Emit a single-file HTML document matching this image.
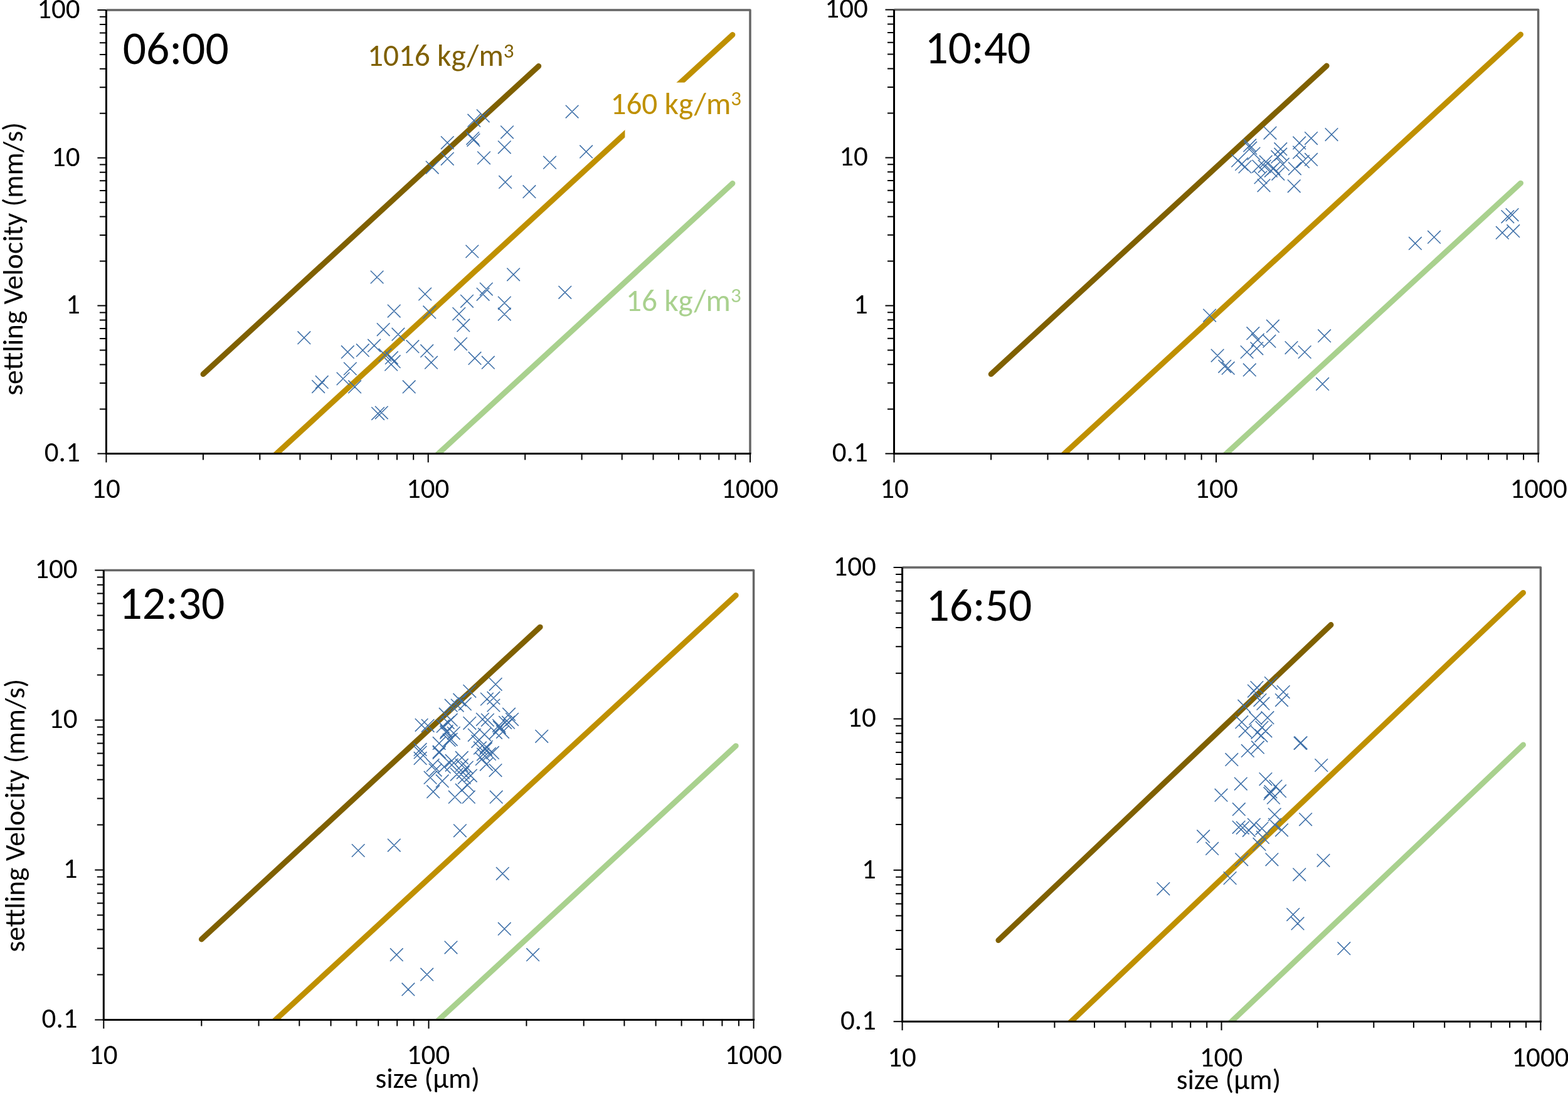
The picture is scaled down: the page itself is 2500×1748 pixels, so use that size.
<!DOCTYPE html>
<html><head><meta charset="utf-8"><title>Settling velocity vs size</title>
<style>html,body{margin:0;padding:0;background:#fff;width:2500px;height:1748px;overflow:hidden}svg{display:block}</style>
</head><body>
<svg width="2500" height="1748" viewBox="0 0 2500 1748" font-family="Carlito, 'Liberation Sans', sans-serif">
<rect width="2500" height="1748" fill="#fff"/>
<defs>
<clipPath id="cTL"><rect x="169.4" y="16" width="1026.6" height="707.4"/></clipPath>
<clipPath id="cTR"><rect x="1425.5" y="15.5" width="1027.1" height="707.9"/></clipPath>
<clipPath id="cBL"><rect x="165.3" y="909.6" width="1036.3" height="716.8"/></clipPath>
<clipPath id="cBR"><rect x="1438.6" y="905" width="1017.8" height="724.2"/></clipPath>
</defs>
<g id="TL">
<g clip-path="url(#cTL)" fill="none" stroke-width="8.8" stroke-linecap="round">
<path stroke="#7F6000" d="M323.9 596.8L858.8 105.4"/>
<path stroke="#BF9000" d="M373.7 785.2L1168 55.4"/>
<path stroke="#A9D18E" d="M633 784L1168 292.4"/>
</g>
<path fill="none" stroke="#3D6FA8" stroke-width="1.5" d="M901.8 167.8l20.6 20.6M901.8 188.4l20.6 -20.6M759.9 174.5l20.6 20.6M759.9 195.1l20.6 -20.6M745.5 181.9l20.6 20.6M745.5 202.5l20.6 -20.6M798.2 200.5l20.6 20.6M798.2 221.1l20.6 -20.6M703 217.3l20.6 20.6M703 237.9l20.6 -20.6M743.4 210.3l20.6 20.6M743.4 230.9l20.6 -20.6M744.6 213l20.6 20.6M744.6 233.6l20.6 -20.6M794 224.5l20.6 20.6M794 245.1l20.6 -20.6M703 243l20.6 20.6M703 263.6l20.6 -20.6M761.2 241.5l20.6 20.6M761.2 262.1l20.6 -20.6M924.3 231.6l20.6 20.6M924.3 252.2l20.6 -20.6M866.2 248.9l20.6 20.6M866.2 269.5l20.6 -20.6M678.9 256.8l20.6 20.6M678.9 277.4l20.6 -20.6M795.3 280.1l20.6 20.6M795.3 300.7l20.6 -20.6M833.6 295.4l20.6 20.6M833.6 316l20.6 -20.6M742.5 390.7l20.6 20.6M742.5 411.3l20.6 -20.6M590.8 431.7l20.6 20.6M590.8 452.3l20.6 -20.6M667.4 458.7l20.6 20.6M667.4 479.3l20.6 -20.6M765 450.8l20.6 20.6M765 471.4l20.6 -20.6M759.8 459l20.6 20.6M759.8 479.6l20.6 -20.6M734.2 470l20.6 20.6M734.2 490.6l20.6 -20.6M617.9 485.8l20.6 20.6M617.9 506.4l20.6 -20.6M674.5 487.6l20.6 20.6M674.5 508.2l20.6 -20.6M721.5 490.3l20.6 20.6M721.5 510.9l20.6 -20.6M728.5 508.6l20.6 20.6M728.5 529.2l20.6 -20.6M600.9 515.3l20.6 20.6M600.9 535.9l20.6 -20.6M624.6 522.9l20.6 20.6M624.6 543.5l20.6 -20.6M474.5 528.4l20.6 20.6M474.5 549l20.6 -20.6M586.3 540.9l20.6 20.6M586.3 561.5l20.6 -20.6M568 548.4l20.6 20.6M568 569l20.6 -20.6M544 551.1l20.6 20.6M544 571.7l20.6 -20.6M647.6 542.4l20.6 20.6M647.6 563l20.6 -20.6M670.4 549.4l20.6 20.6M670.4 570l20.6 -20.6M724.2 538.3l20.6 20.6M724.2 558.9l20.6 -20.6M603.6 555.9l20.6 20.6M603.6 576.5l20.6 -20.6M614.1 560.4l20.6 20.6M614.1 581l20.6 -20.6M617.9 566.4l20.6 20.6M617.9 587l20.6 -20.6M613.4 570.9l20.6 20.6M613.4 591.5l20.6 -20.6M677.2 567.9l20.6 20.6M677.2 588.5l20.6 -20.6M746.7 561.1l20.6 20.6M746.7 581.7l20.6 -20.6M768 567.9l20.6 20.6M768 588.5l20.6 -20.6M548 577.7l20.6 20.6M548 598.3l20.6 -20.6M536.7 593.7l20.6 20.6M536.7 614.3l20.6 -20.6M502.9 599.1l20.6 20.6M502.9 619.7l20.6 -20.6M497.3 606.3l20.6 20.6M497.3 626.9l20.6 -20.6M555.3 606.6l20.6 20.6M555.3 627.2l20.6 -20.6M641.9 606.6l20.6 20.6M641.9 627.2l20.6 -20.6M592.3 649.3l20.6 20.6M592.3 669.9l20.6 -20.6M598 647.8l20.6 20.6M598 668.4l20.6 -20.6M808.3 427.5l20.6 20.6M808.3 448.1l20.6 -20.6M890.5 456l20.6 20.6M890.5 476.6l20.6 -20.6M794 472.8l20.6 20.6M794 493.4l20.6 -20.6M794 490.8l20.6 20.6M794 511.4l20.6 -20.6"/>
<path fill="none" stroke="#666666" stroke-width="3.5" stroke-linejoin="round" d="M169.4 16H1196V723.4"/>
<path fill="none" stroke="#000" stroke-width="2" d="M155.4 723.4H169.4M158.9 652.4H169.4M158.9 610.9H169.4M158.9 581.4H169.4M158.9 558.6H169.4M158.9 539.9H169.4M158.9 524.1H169.4M158.9 510.5H169.4M158.9 498.4H169.4M155.4 487.6H169.4M158.9 416.6H169.4M158.9 375.1H169.4M158.9 345.6H169.4M158.9 322.8H169.4M158.9 304.1H169.4M158.9 288.3H169.4M158.9 274.7H169.4M158.9 262.6H169.4M155.4 251.8H169.4M158.9 180.8H169.4M158.9 139.3H169.4M158.9 109.8H169.4M158.9 87H169.4M158.9 68.3H169.4M158.9 52.5H169.4M158.9 38.9H169.4M158.9 26.8H169.4M155.4 16H169.4M169.4 723.4V737.4M323.9 723.4V733.4M414.3 723.4V733.4M478.4 723.4V733.4M528.2 723.4V733.4M568.8 723.4V733.4M603.2 723.4V733.4M633 723.4V733.4M659.2 723.4V733.4M682.7 723.4V737.4M837.2 723.4V733.4M927.6 723.4V733.4M991.7 723.4V733.4M1041.5 723.4V733.4M1082.1 723.4V733.4M1116.5 723.4V733.4M1146.3 723.4V733.4M1172.5 723.4V733.4M1196 723.4V737.4"/>
<path fill="none" stroke="#000" stroke-width="3" d="M169.4 16V723.4H1197.5"/>
<g font-size="45" fill="#000">
<text x="127.7" y="28.8" text-anchor="end" textLength="68.44" lengthAdjust="spacingAndGlyphs">100</text>
<text x="127.7" y="264.6" text-anchor="end" textLength="45.63" lengthAdjust="spacingAndGlyphs">10</text>
<text x="127.7" y="500.4" text-anchor="end" textLength="22.81" lengthAdjust="spacingAndGlyphs">1</text>
<text x="127.7" y="736.2" text-anchor="end" textLength="56.98" lengthAdjust="spacingAndGlyphs">0.1</text>
<text x="168.9" y="794.2" text-anchor="middle" textLength="45.63" lengthAdjust="spacingAndGlyphs">10</text>
<text x="682.2" y="794.2" text-anchor="middle" textLength="68.44" lengthAdjust="spacingAndGlyphs">100</text>
<text x="1195.5" y="794.2" text-anchor="middle" textLength="91.23" lengthAdjust="spacingAndGlyphs">1000</text>
</g>
</g>
<g id="TR">
<g clip-path="url(#cTR)" fill="none" stroke-width="8.8" stroke-linecap="round">
<path stroke="#7F6000" d="M1580.1 596.7L2115.2 104.9"/>
<path stroke="#BF9000" d="M1629.9 785.2L2424.6 54.9"/>
<path stroke="#A9D18E" d="M1889.3 784L2424.6 292.1"/>
</g>
<path fill="none" stroke="#3D6FA8" stroke-width="1.5" d="M2014.7 201.8l20.6 20.6M2014.7 222.4l20.6 -20.6M2112.7 204.3l20.6 20.6M2112.7 224.9l20.6 -20.6M2080.2 210.3l20.6 20.6M2080.2 230.9l20.6 -20.6M2061.4 217.6l20.6 20.6M2061.4 238.2l20.6 -20.6M2061.3 232.7l20.6 20.6M2061.3 253.3l20.6 -20.6M2080.2 244.1l20.6 20.6M2080.2 264.7l20.6 -20.6M2067.1 247.4l20.6 20.6M2067.1 268l20.6 -20.6M2054.1 258.5l20.6 20.6M2054.1 279.1l20.6 -20.6M2052.9 286.5l20.6 20.6M2052.9 307.1l20.6 -20.6M2004.7 285.5l20.6 20.6M2004.7 306.1l20.6 -20.6M1963.3 245.9l20.6 20.6M1963.3 266.5l20.6 -20.6M1969.3 251.4l20.6 20.6M1969.3 272l20.6 -20.6M1982.4 221.6l20.6 20.6M1982.4 242.2l20.6 -20.6M1983.4 225.9l20.6 20.6M1983.4 246.5l20.6 -20.6M1988.7 234.7l20.6 20.6M1988.7 255.3l20.6 -20.6M1996.4 255l20.6 20.6M1996.4 275.6l20.6 -20.6M2007.9 247.9l20.6 20.6M2007.9 268.5l20.6 -20.6M2005.9 255l20.6 20.6M2005.9 275.6l20.6 -20.6M2016 262l20.6 20.6M2016 282.6l20.6 -20.6M2031.5 235.9l20.6 20.6M2031.5 256.5l20.6 -20.6M2031.5 227.4l20.6 20.6M2031.5 248l20.6 -20.6M2026.5 239.9l20.6 20.6M2026.5 260.5l20.6 -20.6M2035 251.9l20.6 20.6M2035 272.5l20.6 -20.6M2020.5 258l20.6 20.6M2020.5 278.6l20.6 -20.6M2027.5 267l20.6 20.6M2027.5 287.6l20.6 -20.6M1974.7 255.7l20.6 20.6M1974.7 276.3l20.6 -20.6M1999.7 272.7l20.6 20.6M1999.7 293.3l20.6 -20.6M1918.3 492.8l20.6 20.6M1918.3 513.4l20.6 -20.6M2019.1 509.9l20.6 20.6M2019.1 530.5l20.6 -20.6M1987.5 521.4l20.6 20.6M1987.5 542l20.6 -20.6M1995 531.9l20.6 20.6M1995 552.5l20.6 -20.6M2013.6 533.9l20.6 20.6M2013.6 554.5l20.6 -20.6M2101.3 525.4l20.6 20.6M2101.3 546l20.6 -20.6M2048.7 544.3l20.6 20.6M2048.7 564.9l20.6 -20.6M2069.9 551.2l20.6 20.6M2069.9 571.8l20.6 -20.6M1993.5 545.5l20.6 20.6M1993.5 566.1l20.6 -20.6M1977.8 551.2l20.6 20.6M1977.8 571.8l20.6 -20.6M1930.8 556.8l20.6 20.6M1930.8 577.4l20.6 -20.6M1942.4 574l20.6 20.6M1942.4 594.6l20.6 -20.6M1947.9 576.9l20.6 20.6M1947.9 597.5l20.6 -20.6M1982 579.6l20.6 20.6M1982 600.2l20.6 -20.6M2098.3 602.1l20.6 20.6M2098.3 622.7l20.6 -20.6M2246.1 377.9l20.6 20.6M2246.1 398.5l20.6 -20.6M2276.2 367.9l20.6 20.6M2276.2 388.5l20.6 -20.6M2393.5 335.3l20.6 20.6M2393.5 355.9l20.6 -20.6M2400.7 332.3l20.6 20.6M2400.7 352.9l20.6 -20.6M2385 360.9l20.6 20.6M2385 381.5l20.6 -20.6M2402.4 358.1l20.6 20.6M2402.4 378.7l20.6 -20.6"/>
<path fill="none" stroke="#666666" stroke-width="3.5" stroke-linejoin="round" d="M1425.5 15.5H2452.6V723.4"/>
<path fill="none" stroke="#000" stroke-width="2" d="M1411.5 723.4H1425.5M1415 652.4H1425.5M1415 610.8H1425.5M1415 581.3H1425.5M1415 558.5H1425.5M1415 539.8H1425.5M1415 524H1425.5M1415 510.3H1425.5M1415 498.2H1425.5M1411.5 487.4H1425.5M1415 416.4H1425.5M1415 374.8H1425.5M1415 345.4H1425.5M1415 322.5H1425.5M1415 303.8H1425.5M1415 288H1425.5M1415 274.3H1425.5M1415 262.3H1425.5M1411.5 251.5H1425.5M1415 180.4H1425.5M1415 138.9H1425.5M1415 109.4H1425.5M1415 86.5H1425.5M1415 67.8H1425.5M1415 52.1H1425.5M1415 38.4H1425.5M1415 26.3H1425.5M1411.5 15.5H1425.5M1425.5 723.4V737.4M1580.1 723.4V733.4M1670.5 723.4V733.4M1734.7 723.4V733.4M1784.5 723.4V733.4M1825.1 723.4V733.4M1859.5 723.4V733.4M1889.3 723.4V733.4M1915.6 723.4V733.4M1939 723.4V737.4M2093.6 723.4V733.4M2184.1 723.4V733.4M2248.2 723.4V733.4M2298 723.4V733.4M2338.7 723.4V733.4M2373.1 723.4V733.4M2402.8 723.4V733.4M2429.1 723.4V733.4M2452.6 723.4V737.4"/>
<path fill="none" stroke="#000" stroke-width="3" d="M1425.5 15.5V723.4H2454.1"/>
<g font-size="45" fill="#000">
<text x="1383.8" y="28.3" text-anchor="end" textLength="68.44" lengthAdjust="spacingAndGlyphs">100</text>
<text x="1383.8" y="264.3" text-anchor="end" textLength="45.63" lengthAdjust="spacingAndGlyphs">10</text>
<text x="1383.8" y="500.2" text-anchor="end" textLength="22.81" lengthAdjust="spacingAndGlyphs">1</text>
<text x="1383.8" y="736.2" text-anchor="end" textLength="56.98" lengthAdjust="spacingAndGlyphs">0.1</text>
<text x="1426" y="794.2" text-anchor="middle" textLength="45.63" lengthAdjust="spacingAndGlyphs">10</text>
<text x="1939.5" y="794.2" text-anchor="middle" textLength="68.44" lengthAdjust="spacingAndGlyphs">100</text>
<text x="2453.1" y="794.2" text-anchor="middle" textLength="91.23" lengthAdjust="spacingAndGlyphs">1000</text>
</g>
</g>
<g id="BL">
<g clip-path="url(#cBL)" fill="none" stroke-width="8.8" stroke-linecap="round">
<path stroke="#7F6000" d="M321.3 1498.1L861.2 1000.1"/>
<path stroke="#BF9000" d="M371.5 1689L1173.3 949.5"/>
<path stroke="#A9D18E" d="M633.2 1687.8L1173.3 1189.6"/>
</g>
<path fill="none" stroke="#3D6FA8" stroke-width="1.5" d="M779.9 1081l20.6 20.6M779.9 1101.6l20.6 -20.6M738.5 1092l20.6 20.6M738.5 1112.6l20.6 -20.6M722.5 1105.9l20.6 20.6M722.5 1126.5l20.6 -20.6M766.1 1104.7l20.6 20.6M766.1 1125.3l20.6 -20.6M776.6 1102.9l20.6 20.6M776.6 1123.5l20.6 -20.6M776.6 1114.7l20.6 20.6M776.6 1135.3l20.6 -20.6M708.9 1114.9l20.6 20.6M708.9 1135.5l20.6 -20.6M731 1112.4l20.6 20.6M731 1133l20.6 -20.6M699.9 1128.9l20.6 20.6M699.9 1149.5l20.6 -20.6M661.8 1146l20.6 20.6M661.8 1166.6l20.6 -20.6M671.8 1147l20.6 20.6M671.8 1167.6l20.6 -20.6M801.2 1128.9l20.6 20.6M801.2 1149.5l20.6 -20.6M806.2 1137l20.6 20.6M806.2 1157.6l20.6 -20.6M738.5 1143l20.6 20.6M738.5 1163.6l20.6 -20.6M759.1 1137l20.6 20.6M759.1 1157.6l20.6 -20.6M767.1 1138l20.6 20.6M767.1 1158.6l20.6 -20.6M785.2 1147l20.6 20.6M785.2 1167.6l20.6 -20.6M795.2 1142l20.6 20.6M795.2 1162.6l20.6 -20.6M703.9 1142l20.6 20.6M703.9 1162.6l20.6 -20.6M713 1159l20.6 20.6M713 1179.6l20.6 -20.6M701.9 1156l20.6 20.6M701.9 1176.6l20.6 -20.6M746 1162l20.6 20.6M746 1182.6l20.6 -20.6M762.1 1161l20.6 20.6M762.1 1181.6l20.6 -20.6M780.2 1158l20.6 20.6M780.2 1178.6l20.6 -20.6M791.2 1157l20.6 20.6M791.2 1177.6l20.6 -20.6M853.4 1164l20.6 20.6M853.4 1184.6l20.6 -20.6M689.9 1175.1l20.6 20.6M689.9 1195.7l20.6 -20.6M659.8 1185.1l20.6 20.6M659.8 1205.7l20.6 -20.6M705.9 1170.1l20.6 20.6M705.9 1190.7l20.6 -20.6M755.1 1182.6l20.6 20.6M755.1 1203.2l20.6 -20.6M770.1 1192.1l20.6 20.6M770.1 1212.7l20.6 -20.6M775.1 1190.1l20.6 20.6M775.1 1210.7l20.6 -20.6M659.8 1199.1l20.6 20.6M659.8 1219.7l20.6 -20.6M726 1198.1l20.6 20.6M726 1218.7l20.6 -20.6M758.1 1200.2l20.6 20.6M758.1 1220.8l20.6 -20.6M764.1 1184.1l20.6 20.6M764.1 1204.7l20.6 -20.6M780.9 1260.9l20.6 20.6M780.9 1281.5l20.6 -20.6M779.7 1218.3l20.6 20.6M779.7 1238.9l20.6 -20.6M680.4 1252.4l20.6 20.6M680.4 1273l20.6 -20.6M715 1260.9l20.6 20.6M715 1281.5l20.6 -20.6M726 1249.9l20.6 20.6M726 1270.5l20.6 -20.6M737 1260.9l20.6 20.6M737 1281.5l20.6 -20.6M675.8 1229.9l20.6 20.6M675.8 1250.5l20.6 -20.6M694.9 1235.4l20.6 20.6M694.9 1256l20.6 -20.6M730 1229.9l20.6 20.6M730 1250.5l20.6 -20.6M735 1241.9l20.6 20.6M735 1262.5l20.6 -20.6M718 1224.8l20.6 20.6M718 1245.4l20.6 -20.6M765.1 1208.8l20.6 20.6M765.1 1229.4l20.6 -20.6M760.1 1192.7l20.6 20.6M760.1 1213.3l20.6 -20.6M689.9 1188.7l20.6 20.6M689.9 1209.3l20.6 -20.6M709.9 1209.8l20.6 20.6M709.9 1230.4l20.6 -20.6M697.9 1212.8l20.6 20.6M697.9 1233.4l20.6 -20.6M683.9 1217.8l20.6 20.6M683.9 1238.4l20.6 -20.6M734 1213.8l20.6 20.6M734 1234.4l20.6 -20.6M740 1226.8l20.6 20.6M740 1247.4l20.6 -20.6M728 1221.8l20.6 20.6M728 1242.4l20.6 -20.6M659.8 1189.7l20.6 20.6M659.8 1210.3l20.6 -20.6M723.1 1314.5l20.6 20.6M723.1 1335.1l20.6 -20.6M560.9 1346.2l20.6 20.6M560.9 1366.8l20.6 -20.6M618 1337.8l20.6 20.6M618 1358.4l20.6 -20.6M791 1383l20.6 20.6M791 1403.6l20.6 -20.6M794 1471.1l20.6 20.6M794 1491.7l20.6 -20.6M708.7 1500.8l20.6 20.6M708.7 1521.4l20.6 -20.6M622 1512.4l20.6 20.6M622 1533l20.6 -20.6M839.3 1512.4l20.6 20.6M839.3 1533l20.6 -20.6M670.4 1543.9l20.6 20.6M670.4 1564.5l20.6 -20.6M640.6 1567.6l20.6 20.6M640.6 1588.2l20.6 -20.6M708.9 1137.9l20.6 20.6M708.9 1158.5l20.6 -20.6M695.9 1147.9l20.6 20.6M695.9 1168.5l20.6 -20.6M701.4 1158l20.6 20.6M701.4 1178.6l20.6 -20.6M708.9 1169l20.6 20.6M708.9 1189.6l20.6 -20.6M689.9 1190.1l20.6 20.6M689.9 1210.7l20.6 -20.6M679.8 1210.1l20.6 20.6M679.8 1230.7l20.6 -20.6M709.9 1203.1l20.6 20.6M709.9 1223.7l20.6 -20.6M726 1210.1l20.6 20.6M726 1230.7l20.6 -20.6M800.2 1141.9l20.6 20.6M800.2 1162.5l20.6 -20.6M786.1 1149.9l20.6 20.6M786.1 1170.5l20.6 -20.6M751.5 1172l20.6 20.6M751.5 1192.6l20.6 -20.6M765.1 1181l20.6 20.6M765.1 1201.6l20.6 -20.6M718.9 1114.8l20.6 20.6M718.9 1135.4l20.6 -20.6"/>
<path fill="none" stroke="#666666" stroke-width="3.5" stroke-linejoin="round" d="M165.3 909.6H1201.6V1626.4"/>
<path fill="none" stroke="#000" stroke-width="2" d="M151.3 1626.4H165.3M154.8 1554.5H165.3M154.8 1512.4H165.3M154.8 1482.5H165.3M154.8 1459.4H165.3M154.8 1440.5H165.3M154.8 1424.5H165.3M154.8 1410.6H165.3M154.8 1398.4H165.3M151.3 1387.5H165.3M154.8 1315.5H165.3M154.8 1273.5H165.3M154.8 1243.6H165.3M154.8 1220.5H165.3M154.8 1201.5H165.3M154.8 1185.5H165.3M154.8 1171.7H165.3M154.8 1159.5H165.3M151.3 1148.5H165.3M154.8 1076.6H165.3M154.8 1034.5H165.3M154.8 1004.7H165.3M154.8 981.5H165.3M154.8 962.6H165.3M154.8 946.6H165.3M154.8 932.8H165.3M154.8 920.5H165.3M151.3 909.6H165.3M165.3 1626.4V1640.4M321.3 1626.4V1636.4M412.5 1626.4V1636.4M477.3 1626.4V1636.4M527.5 1626.4V1636.4M568.5 1626.4V1636.4M603.2 1626.4V1636.4M633.2 1626.4V1636.4M659.7 1626.4V1636.4M683.5 1626.4V1640.4M839.4 1626.4V1636.4M930.7 1626.4V1636.4M995.4 1626.4V1636.4M1045.6 1626.4V1636.4M1086.6 1626.4V1636.4M1121.3 1626.4V1636.4M1151.4 1626.4V1636.4M1177.9 1626.4V1636.4M1201.6 1626.4V1640.4"/>
<path fill="none" stroke="#000" stroke-width="3" d="M165.3 909.6V1626.4H1203.1"/>
<g font-size="45" fill="#000">
<text x="123.6" y="922.4" text-anchor="end" textLength="68.44" lengthAdjust="spacingAndGlyphs">100</text>
<text x="123.6" y="1161.3" text-anchor="end" textLength="45.63" lengthAdjust="spacingAndGlyphs">10</text>
<text x="123.6" y="1400.3" text-anchor="end" textLength="22.81" lengthAdjust="spacingAndGlyphs">1</text>
<text x="123.6" y="1639.2" text-anchor="end" textLength="56.98" lengthAdjust="spacingAndGlyphs">0.1</text>
<text x="164.8" y="1697.2" text-anchor="middle" textLength="45.63" lengthAdjust="spacingAndGlyphs">10</text>
<text x="683" y="1697.2" text-anchor="middle" textLength="68.44" lengthAdjust="spacingAndGlyphs">100</text>
<text x="1201.1" y="1697.2" text-anchor="middle" textLength="91.23" lengthAdjust="spacingAndGlyphs">1000</text>
</g>
</g>
<g id="BR">
<g clip-path="url(#cBR)" fill="none" stroke-width="8.8" stroke-linecap="round">
<path stroke="#7F6000" d="M1591.8 1499.6L2122.1 996.5"/>
<path stroke="#BF9000" d="M1641.1 1692.5L2428.6 945.3"/>
<path stroke="#A9D18E" d="M1898.2 1691.2L2428.6 1187.9"/>
</g>
<path fill="none" stroke="#3D6FA8" stroke-width="1.5" d="M2016.1 1079.3l20.6 20.6M2016.1 1099.9l20.6 -20.6M1993.6 1086.3l20.6 20.6M1993.6 1106.9l20.6 -20.6M1989.1 1091.8l20.6 20.6M1989.1 1112.4l20.6 -20.6M2035.9 1093.3l20.6 20.6M2035.9 1113.9l20.6 -20.6M2033.2 1106.3l20.6 20.6M2033.2 1126.9l20.6 -20.6M1998.6 1106.3l20.6 20.6M1998.6 1126.9l20.6 -20.6M2003.6 1111.9l20.6 20.6M2003.6 1132.5l20.6 -20.6M1973.5 1115.9l20.6 20.6M1973.5 1136.5l20.6 -20.6M2010.6 1134.4l20.6 20.6M2010.6 1155l20.6 -20.6M1991.6 1135.4l20.6 20.6M1991.6 1156l20.6 -20.6M1969.5 1141.4l20.6 20.6M1969.5 1162l20.6 -20.6M2001.6 1150l20.6 20.6M2001.6 1170.6l20.6 -20.6M1975 1155.5l20.6 20.6M1975 1176.1l20.6 -20.6M2000.6 1163l20.6 20.6M2000.6 1183.6l20.6 -20.6M2063.8 1174.5l20.6 20.6M2063.8 1195.1l20.6 -20.6M2062.7 1175l20.6 20.6M2062.7 1195.6l20.6 -20.6M1995.1 1181.6l20.6 20.6M1995.1 1202.2l20.6 -20.6M1979 1187.1l20.6 20.6M1979 1207.7l20.6 -20.6M1953.5 1201.1l20.6 20.6M1953.5 1221.7l20.6 -20.6M2096.4 1210.2l20.6 20.6M2096.4 1230.8l20.6 -20.6M1994.6 1158l20.6 20.6M1994.6 1178.6l20.6 -20.6M2007.6 1155.5l20.6 20.6M2007.6 1176.1l20.6 -20.6M2007.6 1232.3l20.6 20.6M2007.6 1252.9l20.6 -20.6M1968 1239.8l20.6 20.6M1968 1260.4l20.6 -20.6M2023.6 1243.8l20.6 20.6M2023.6 1264.4l20.6 -20.6M2030.2 1251.4l20.6 20.6M2030.2 1272l20.6 -20.6M2015.6 1252.4l20.6 20.6M2015.6 1273l20.6 -20.6M2014.6 1255.4l20.6 20.6M2014.6 1276l20.6 -20.6M2020.1 1261.9l20.6 20.6M2020.1 1282.5l20.6 -20.6M1936.7 1257.9l20.6 20.6M1936.7 1278.5l20.6 -20.6M1965 1280.4l20.6 20.6M1965 1301l20.6 -20.6M2021.9 1288.8l20.6 20.6M2021.9 1309.4l20.6 -20.6M2071.3 1296.5l20.6 20.6M2071.3 1317.1l20.6 -20.6M1964.8 1309l20.6 20.6M1964.8 1329.6l20.6 -20.6M1971 1310l20.6 20.6M1971 1330.6l20.6 -20.6M1989 1305l20.6 20.6M1989 1325.6l20.6 -20.6M1981 1314l20.6 20.6M1981 1334.6l20.6 -20.6M2001.6 1311l20.6 20.6M2001.6 1331.6l20.6 -20.6M2022.1 1305l20.6 20.6M2022.1 1325.6l20.6 -20.6M2033.2 1313.5l20.6 20.6M2033.2 1334.1l20.6 -20.6M2003.1 1325.1l20.6 20.6M2003.1 1345.7l20.6 -20.6M1997.6 1336.1l20.6 20.6M1997.6 1356.7l20.6 -20.6M1908.3 1323.6l20.6 20.6M1908.3 1344.2l20.6 -20.6M1922.3 1343.1l20.6 20.6M1922.3 1363.7l20.6 -20.6M1969.4 1360.5l20.6 20.6M1969.4 1381.1l20.6 -20.6M2017.6 1360.5l20.6 20.6M2017.6 1381.1l20.6 -20.6M2099.7 1362l20.6 20.6M2099.7 1382.6l20.6 -20.6M2061.4 1384.5l20.6 20.6M2061.4 1405.1l20.6 -20.6M1950.8 1390.2l20.6 20.6M1950.8 1410.8l20.6 -20.6M1844.5 1407.3l20.6 20.6M1844.5 1427.9l20.6 -20.6M2051.4 1448.3l20.6 20.6M2051.4 1468.9l20.6 -20.6M2058.7 1462.6l20.6 20.6M2058.7 1483.2l20.6 -20.6M2132.5 1502.4l20.6 20.6M2132.5 1523l20.6 -20.6"/>
<path fill="none" stroke="#666666" stroke-width="3.5" stroke-linejoin="round" d="M1438.6 905H2456.4V1629.2"/>
<path fill="none" stroke="#000" stroke-width="2" d="M1424.6 1629.2H1438.6M1428.1 1556.5H1438.6M1428.1 1514H1438.6M1428.1 1483.9H1438.6M1428.1 1460.5H1438.6M1428.1 1441.4H1438.6M1428.1 1425.2H1438.6M1428.1 1411.2H1438.6M1428.1 1398.8H1438.6M1424.6 1387.8H1438.6M1428.1 1315.1H1438.6M1428.1 1272.6H1438.6M1428.1 1242.5H1438.6M1428.1 1219.1H1438.6M1428.1 1200H1438.6M1428.1 1183.8H1438.6M1428.1 1169.8H1438.6M1428.1 1157.4H1438.6M1424.6 1146.4H1438.6M1428.1 1073.7H1438.6M1428.1 1031.2H1438.6M1428.1 1001.1H1438.6M1428.1 977.7H1438.6M1428.1 958.6H1438.6M1428.1 942.4H1438.6M1428.1 928.4H1438.6M1428.1 916H1438.6M1424.6 905H1438.6M1438.6 1629.2V1643.2M1591.8 1629.2V1639.2M1681.4 1629.2V1639.2M1745 1629.2V1639.2M1794.3 1629.2V1639.2M1834.6 1629.2V1639.2M1868.7 1629.2V1639.2M1898.2 1629.2V1639.2M1924.2 1629.2V1639.2M1947.5 1629.2V1643.2M2100.7 1629.2V1639.2M2190.3 1629.2V1639.2M2253.9 1629.2V1639.2M2303.2 1629.2V1639.2M2343.5 1629.2V1639.2M2377.6 1629.2V1639.2M2407.1 1629.2V1639.2M2433.1 1629.2V1639.2M2456.4 1629.2V1643.2"/>
<path fill="none" stroke="#000" stroke-width="3" d="M1438.6 905V1629.2H2457.9"/>
<g font-size="45" fill="#000">
<text x="1396.9" y="917.8" text-anchor="end" textLength="68.44" lengthAdjust="spacingAndGlyphs">100</text>
<text x="1396.9" y="1159.2" text-anchor="end" textLength="45.63" lengthAdjust="spacingAndGlyphs">10</text>
<text x="1396.9" y="1400.6" text-anchor="end" textLength="22.81" lengthAdjust="spacingAndGlyphs">1</text>
<text x="1396.9" y="1642" text-anchor="end" textLength="56.98" lengthAdjust="spacingAndGlyphs">0.1</text>
<text x="1438.1" y="1701.3" text-anchor="middle" textLength="45.63" lengthAdjust="spacingAndGlyphs">10</text>
<text x="1947" y="1701.3" text-anchor="middle" textLength="68.44" lengthAdjust="spacingAndGlyphs">100</text>
<text x="2455.9" y="1701.3" text-anchor="middle" textLength="91.23" lengthAdjust="spacingAndGlyphs">1000</text>
</g>
</g>
<text x="195.8" y="101.5" font-size="73.6" fill="#000" textLength="168.91" lengthAdjust="spacingAndGlyphs">06:00</text>
<text x="1474.4" y="101" font-size="73.6" fill="#000" textLength="168.91" lengthAdjust="spacingAndGlyphs">10:40</text>
<text x="189.4" y="986.5" font-size="73.6" fill="#000" textLength="168.91" lengthAdjust="spacingAndGlyphs">12:30</text>
<text x="1476.4" y="990" font-size="73.6" fill="#000" textLength="168.91" lengthAdjust="spacingAndGlyphs">16:50</text>
<rect x="996.4" y="131.6" width="188" height="92" fill="#fff"/>
<text x="585.9" y="105" font-size="49.3" fill="#7F6000" textLength="233.63" lengthAdjust="spacingAndGlyphs">1016 kg/m<tspan font-size="33" dy="-13.4">3</tspan></text>
<text x="973.4" y="181.5" font-size="49.3" fill="#BF9000" textLength="208.64" lengthAdjust="spacingAndGlyphs">160 kg/m<tspan font-size="33" dy="-13.4">3</tspan></text>
<text x="998.1" y="495.5" font-size="49.3" fill="#A9D18E" textLength="183.66" lengthAdjust="spacingAndGlyphs">16 kg/m<tspan font-size="33" dy="-13.4">3</tspan></text>
<text transform="translate(36.3 412.8) rotate(-90)" text-anchor="middle" font-size="45.4" fill="#000" textLength="435.72" lengthAdjust="spacingAndGlyphs">settling Velocity (mm/s)</text>
<text transform="translate(38.6 1300.7) rotate(-90)" text-anchor="middle" font-size="45.4" fill="#000" textLength="435.72" lengthAdjust="spacingAndGlyphs">settling Velocity (mm/s)</text>
<text x="681.8" y="1735" text-anchor="middle" font-size="45.4" fill="#000" textLength="166.67" lengthAdjust="spacingAndGlyphs">size (µm)</text>
<text x="1959" y="1736.5" text-anchor="middle" font-size="45.4" fill="#000" textLength="166.67" lengthAdjust="spacingAndGlyphs">size (µm)</text>
</svg>
</body></html>
